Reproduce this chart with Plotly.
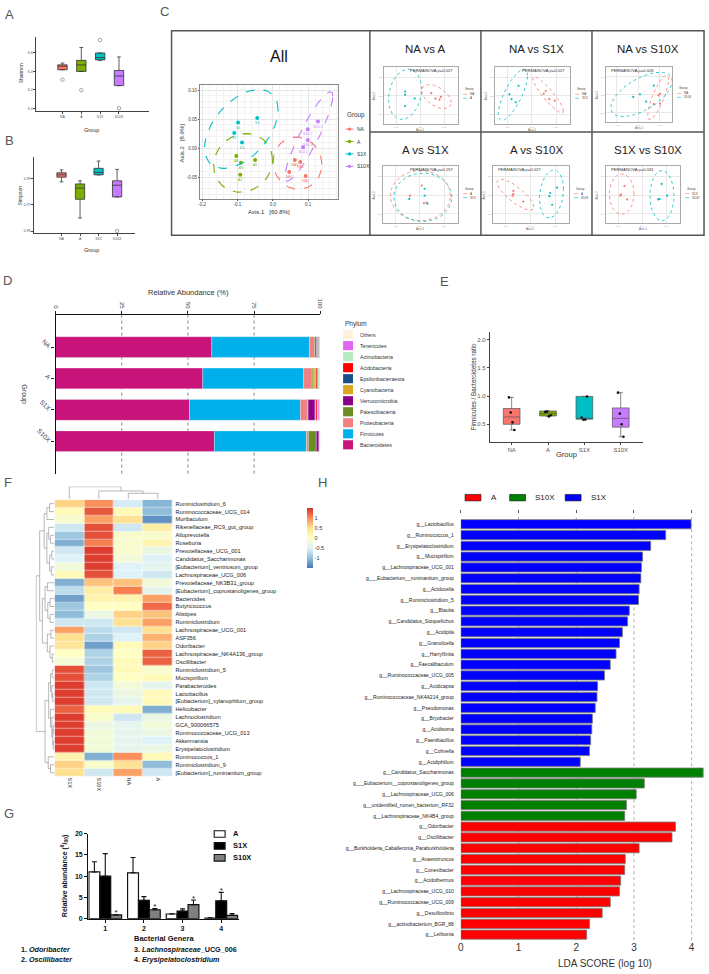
import numpy as np
import plotly.graph_objects as go

W, H = 709, 974
FONT = "Liberation Sans, Arial, sans-serif"

# ---------------- data ----------------
groups = ["NA", "A", "S1X", "S10X"]
group_colors = ["#F8766D", "#7CAE00", "#00BFC4", "#C77CFF"]

# A - Shannon (box stats per group)
shannon_q1 = [6.418, 6.400, 6.525, 6.246]
shannon_med = [6.457, 6.470, 6.550, 6.350]
shannon_q3 = [6.471, 6.520, 6.600, 6.410]
shannon_lo = [6.418, 6.400, 6.520, 6.246]
shannon_hi = [6.490, 6.660, 6.600, 6.557]
shannon_out_grp = [0, 1, 2, 3]
shannon_out = [6.31, 6.196, 6.74, 6.0]

# B - Simpson
simpson_q1 = [0.9807, 0.9722, 0.9816, 0.9731]
simpson_med = [0.9816, 0.9765, 0.9825, 0.9776]
simpson_q3 = [0.9824, 0.9781, 0.9841, 0.9793]
simpson_lo = [0.9789, 0.9650, 0.9816, 0.9731]
simpson_hi = [0.9835, 0.9793, 0.9869, 0.9837]
simpson_out_grp = [3]
simpson_out = [0.9600]

# C - PCoA, all samples
na_pc1 = [0.0625, 0.078, 0.0466, 0.093]
na_pc2 = [-0.0207, -0.024, -0.041, -0.048]
na_lab = ["NA3", "NA4", "NA1", "NA2"]
a_pc1 = [-0.103, -0.090, -0.050, -0.092]
a_pc2 = [-0.0137, -0.0254, -0.0207, -0.046]
a_lab = ["A4", "A3", "A1", "A2"]
s1x_pc1 = [-0.098, -0.044, -0.109, -0.087]
s1x_pc2 = [0.044, 0.052, 0.026, 0.0098]
s1x_lab = ["S4", "S3", "S2", "S1"]
s10x_pc1 = [0.128, 0.099, 0.099, 0.086]
s10x_pc2 = [0.046, 0.0326, 0.0139, 0.0016]
s10x_lab = ["S10-4", "S10-2", "S10-3", "S10-1"]
# ellipses: centre x, centre y, half width, half height, correlation
ell_na = (0.070, -0.026, 0.069, 0.045, -0.05)
ell_a = (-0.084, -0.0255, 0.083, 0.0505, 0.1)
ell_s1x = (-0.089, 0.033, 0.104, 0.068, 0.48)
ell_s10x = (0.102, 0.020, 0.068, 0.077, 0.9)

# C - pairwise PCoA
mini_titles = ["NA vs A", "NA vs S1X", "NA vs S10X", "A vs S1X", "A vs S10X", "S1X vs S10X"]
mini_p = ["0.027", "0.027", "0.026", "0.157", "0.027", "0.031"]
mini_g1_pc1 = [[0.66, 0.80, 0.72, 0.78], [0.70, 0.67, 0.75, 0.83], [0.85, 0.825, 0.75, 0.85],
               [0.53, 0.36, 0.56, 0.60], [0.26, 0.26, 0.40, 0.25], [0.24, 0.19, 0.28, 0.18]]
mini_g1_pc2 = [[0.55, 0.48, 0.45, 0.43], [0.59, 0.54, 0.44, 0.41], [0.52, 0.49, 0.32, 0.33],
               [0.68, 0.49, 0.35, 0.36], [0.58, 0.52, 0.38, 0.49], [0.67, 0.51, 0.42, 0.49]]
mini_g2_pc1 = [[0.28, 0.28, 0.42, 0.28], [0.31, 0.18, 0.21, 0.27], [0.75, 0.415, 0.525, 0.625],
               [0.57, 0.57, 0.35, 0.61], [0.88, 0.78, 0.77, 0.81], [0.78, 0.86, 0.75, 0.73]]
mini_g2_pc2 = [[0.58, 0.52, 0.45, 0.31], [0.69, 0.53, 0.44, 0.38], [0.68, 0.46, 0.51, 0.37],
               [0.62, 0.49, 0.43, 0.34], [0.64, 0.54, 0.48, 0.32], [0.71, 0.49, 0.43, 0.42]]
mini_g1_ell = [(0.735, 0.485, 0.215, 0.225, -0.5), (0.735, 0.52, 0.22, 0.34, -0.9),
               (0.82, 0.45, 0.17, 0.43, 0.8), (0.51, 0.49, 0.43, 0.47, 0.0),
               (0.29, 0.51, 0.26, 0.29, -0.8), (0.20, 0.52, 0.18, 0.38, 0.0)]
mini_g2_ell = [(0.28, 0.53, 0.24, 0.47, 0.2), (0.23, 0.52, 0.21, 0.48, 0.75),
               (0.55, 0.51, 0.50, 0.43, 0.6), (0.545, 0.46, 0.415, 0.455, 0.0),
               (0.80, 0.52, 0.17, 0.45, 0.2), (0.785, 0.49, 0.175, 0.47, 0.0)]

# D - phylum relative abundance (%), groups NA, A, S1X, S10X
phyla = ["Bacteroidetes", "Firmicutes", "Proteobacteria", "Patescibacteria", "Verrucomicrobia",
         "Cyanobacteria", "Epsilonbacteraeota", "Acidobacteria", "Actinobacteria", "Tenericutes", "Others"]
phyla_colors = ["#C8137A", "#00B0EA", "#F08080", "#6B8E23", "#8B008B",
                "#DAA520", "#1B4F8A", "#FF0000", "#B5EBC0", "#E066F0", "#FDF0DC"]
phyla_pct = [
    [59.0, 55.6, 50.6, 60.0],
    [36.9, 38.1, 41.9, 34.75],
    [1.9, 3.25, 2.6, 0.75],
    [0.8, 0.5, 0.3, 3.0],
    [0.2, 0.2, 2.6, 1.0],
    [0.5, 0.6, 0.2, 0.1],
    [0.2, 0.2, 0.2, 0.1],
    [0.2, 0.6, 0.6, 0.05],
    [0.1, 0.7, 0.2, 0.05],
    [0.1, 0.1, 0.6, 0.15],
    [0.1, 0.15, 0.2, 0.05],
]

# E - Firmicutes / Bacteroidetes ratio
ratio_q1 = [0.50, 0.647, 0.59, 0.45]
ratio_med = [0.63, 0.69, 0.60, 0.605]
ratio_q3 = [0.78, 0.735, 0.994, 0.79]
ratio_lo = [0.40, 0.64, 0.58, 0.28]
ratio_hi = [0.976, 0.735, 0.994, 1.06]
ratio_pts = [[0.976, 0.71, 0.535, 0.40], [0.72, 0.725, 0.64, 0.66],
             [0.62, 0.58, 0.585, 0.99], [1.06, 0.69, 0.50, 0.28]]

# F - heatmap (z-scores)
heat_cols = ["S1X", "S10X", "NA", "A"]
heat_rows = ["Ruminiclostridium_6", "Ruminococcaceae_UCG_014", "Muribaculum", "Rikenellaceae_RC9_gut_group",
             "Alloprevotella", "Roseburia", "Prevotellaceae_UCG_001", "Candidatus_Saccharimonas",
             "[Eubacterium]_ventriosum_group", "Lachnospiraceae_UCG_006", "Prevotellaceae_NK3B31_group",
             "[Eubacterium]_coprostanoligenes_group", "Bacteroides", "Butyricicoccus", "Alistipes",
             "Ruminiclostridium", "Lachnospiraceae_UCG_001", "ASF356", "Odoribacter",
             "Lachnospiraceae_NK4A136_group", "Oscillibacter", "Ruminiclostridium_5", "Mucispirillum",
             "Parabacteroides", "Lactobacillus", "[Eubacterium]_xylanophilum_group", "Helicobacter",
             "Lachnoclostridium", "GCA_900066575", "Ruminococcaceae_UCG_013", "Akkermansia",
             "Erysipelatoclostridium", "Ruminococcus_1", "Ruminiclostridium_9", "[Eubacterium]_ruminantium_group"]
heat_z = [
    [0.6, 1.0, -0.55, -1.05], [0.1, 1.3, 0.1, -1.0], [-0.1, 0.9, 0.5, -1.3], [-0.6, 1.35, -0.6, 0.3],
    [-0.9, 1.35, -0.1, -0.1], [-1.1, 1.1, -0.1, 0.2], [-0.6, 1.45, -0.1, -0.3], [-0.5, 1.45, -0.2, -0.5],
    [-0.2, 1.45, -0.5, -0.4], [0.1, 1.35, -0.5, -0.6], [-1.1, 0.7, 0.7, -0.2], [-0.7, 0.3, 1.1, -0.4],
    [-1.2, 0.2, 0.2, 0.9], [-0.9, 0.0, 0.0, 1.2], [-1.0, -0.3, 0.6, 0.7], [-0.6, -0.6, 0.5, 0.9],
    [0.9, -0.7, -0.6, 0.5], [0.5, -0.8, -0.5, 0.8], [0.4, -1.2, 0.1, 0.6], [0.0, -0.8, 0.0, 1.25],
    [-0.2, -0.8, 0.1, 1.25], [1.35, -0.9, 0.1, -0.1], [1.35, -0.8, 0.0, 0.1], [1.45, -0.6, -0.2, -0.4],
    [1.45, -0.6, -0.3, 0.1], [1.45, -0.6, -0.4, 0.1], [1.25, 0.1, 0.1, -1.1], [1.45, -0.1, -0.6, -0.3],
    [1.45, -0.3, -0.4, -0.2], [1.45, -0.2, -0.4, -0.3], [1.45, -0.2, -0.4, -0.5], [1.45, -0.2, -0.4, -0.3],
    [0.2, -1.1, 1.0, 0.1], [0.6, -0.1, 0.5, -1.0], [0.5, -0.6, 0.9, -0.6],
]
# clustering trees: (left, right, height); leaves are row / column indexes
row_tree = (((((0, 1, 1.0), 2, 1.6),
              ((3, (4, 5, 0.8), 1.2), ((6, 7, 0.5), (8, 9, 0.6), 1.0), 1.6), 2.2),
             (((10, 11, 1.5), ((12, 13, 0.9), (14, 15, 0.9), 1.4), 2.0),
              ((16, 17, 0.7), (18, (19, 20, 0.4), 0.9), 1.5), 2.6), 3.2),
            (((((21, 22, 0.4), (23, (24, 25, 0.3), 0.5), 0.8),
               (26, (27, ((28, 29, 0.2), (30, 31, 0.2), 0.3), 0.5), 0.8), 1.2),
              (32, (33, 34, 0.8), 1.3), 2.0)), 4.0)
col_tree = (0, (1, (2, 3, 0.6), 0.85), 1.3)

# G - bacterial genera (relative abundance, per mille)
genera_idx = [1, 2, 3, 4]
genera_notes = ["1. <i>Odoribacter</i>", "2. <i>Oscillibacter</i>",
                "3. <i>Lachnospiraceae</i>_UCG_006", "4. <i>Erysipelatoclostridium</i>"]
g_a_mean = [11.0, 10.8, 1.1, 0.15]
g_a_err = [2.4, 3.6, 0.05, 0.05]
g_s1x_mean = [10.0, 4.3, 1.8, 4.2]
g_s1x_err = [5.3, 0.9, 0.5, 2.0]
g_s10x_mean = [0.9, 2.1, 3.3, 0.8]
g_s10x_err = [0.1, 0.3, 1.1, 0.4]
g_a_sig = [0, 0, 0, 0]
g_s1x_sig = [0, 0, 0, 1]
g_s10x_sig = [1, 1, 1, 0]

# H - LEfSe LDA scores
lda_s1x_names = ["Lactobacillus", "Ruminococcus_1", "Erysipelatoclostridium", "Mucispirillum",
                 "Lachnospiraceae_UCG_001", "_Eubacterium__ruminantium_group", "Acidocella",
                 "Ruminiclostridium_5", "Blautia", "Candidatus_Stoquefichus", "Acidipila", "Granulicella",
                 "Harryflintia", "Faecalibaculum", "Ruminococcaceae_UCG_005", "Acidicapsa",
                 "Ruminococcaceae_NK4A214_group", "Pseudomonas", "Bryobacter", "Acidisoma",
                 "Paenibacillus", "Cohnella", "Acidiphilium"]
lda_s1x = [3.99, 3.55, 3.29, 3.15, 3.13, 3.12, 3.09, 3.08, 2.92, 2.89, 2.80, 2.75,
           2.69, 2.59, 2.49, 2.37, 2.36, 2.33, 2.28, 2.27, 2.25, 2.23, 2.07]
lda_s10x_names = ["Candidatus_Saccharimonas", "_Eubacterium__coprostanoligenes_group",
                  "Lachnospiraceae_UCG_006", "unidentified_rumen_bacterium_RF32", "Lachnospiraceae_NK4B4_group"]
lda_s10x = [4.20, 3.18, 3.04, 2.87, 2.84]
lda_a_names = ["Odoribacter", "Oscillibacter", "Burkholderia_Caballeronia_Paraburkholderia",
               "Anaerotruncus", "Conexibacter", "Acidothermus", "Lachnospiraceae_UCG_010",
               "Ruminococcaceae_UCG_009", "Desulfovibrio", "actinobacterium_BGR_88", "Leifsonia"]
lda_a = [3.72, 3.66, 3.09, 2.85, 2.84, 2.77, 2.75, 2.59, 2.45, 2.23, 2.18]

# ---------------- helpers ----------------
fig = go.Figure()
layout = dict(width=W, height=H, margin=dict(l=0, r=0, t=0, b=0), paper_bgcolor="white",
              plot_bgcolor="white", showlegend=False, hovermode=False, barmode="overlay",
              font=dict(family=FONT, color="#333"))
shapes, annos = [], []


def px(x):
    return x / W


def py(y):
    return 1 - y / H


n_axes = [0]


def new_axes(x0, x1, y0, y1, xkw=None, ykw=None):
    n_axes[0] += 1
    s = "" if n_axes[0] == 1 else str(n_axes[0])
    base = dict(showgrid=False, zeroline=False, showline=False, ticks="", showticklabels=False)
    xa = dict(base, domain=[px(x0), px(x1)], anchor="y" + s)
    ya = dict(base, domain=[py(y1), py(y0)], anchor="x" + s)
    xa.update(xkw or {})
    ya.update(ykw or {})
    layout["xaxis" + s] = xa
    layout["yaxis" + s] = ya
    return "x" + s, "y" + s


def text(x, y, s, size, color="#333", anchor="center", angle=0):
    annos.append(dict(xref="paper", yref="paper", x=px(x), y=py(y), text=s, showarrow=False,
                      xanchor=anchor, yanchor="middle", textangle=angle,
                      font=dict(size=size, color=color, family=FONT)))


def rect(x0, y0, x1, y1, fill="rgba(0,0,0,0)", line="rgba(0,0,0,0)", lw=0):
    shapes.append(dict(type="rect", xref="paper", yref="paper", x0=px(x0), x1=px(x1),
                       y0=py(y1), y1=py(y0), fillcolor=fill, line=dict(color=line, width=lw)))


def seg(x0, y0, x1, y1, color, lw, dash="solid"):
    shapes.append(dict(type="line", xref="paper", yref="paper", x0=px(x0), x1=px(x1),
                       y0=py(y0), y1=py(y1), line=dict(color=color, width=lw, dash=dash)))


def dot(x, y, r, color):
    shapes.append(dict(type="circle", xref="paper", yref="paper", x0=px(x - r), x1=px(x + r),
                       y0=py(y + r), y1=py(y - r), fillcolor=color, line=dict(width=0)))


def ellipse(cx, cy, rx, ry, rho, n=90):
    t = np.linspace(0, 2 * np.pi, n)
    return cx + rx * np.cos(t), cy + ry * (rho * np.cos(t) + np.sqrt(1 - rho ** 2) * np.sin(t))


def dendro(node):
    # returns position, height and line coordinates (pos list, height list)
    if isinstance(node, int):
        return float(node), 0.0, [], []
    a, b, h = node
    pa, ha, pl_a, hl_a = dendro(a)
    pb, hb, pl_b, hl_b = dendro(b)
    pos = pl_a + pl_b + [pa, pa, pb, pb, None]
    hts = hl_a + hl_b + [ha, h, h, hb, None]
    return (pa + pb) / 2, h, pos, hts


def add_boxes(xa, ya, q1, med, q3, lo, hi, width, line_color, lw, whisk):
    for i in range(4):
        fig.add_trace(go.Box(x=[i], q1=[q1[i]], median=[med[i]], q3=[q3[i]],
                             lowerfence=[lo[i]], upperfence=[hi[i]], width=width,
                             fillcolor=group_colors[i], line=dict(color=line_color, width=lw),
                             whiskerwidth=whisk, boxpoints=False, xaxis=xa, yaxis=ya))


tick_small = dict(showticklabels=True, showline=True, linecolor="#444", linewidth=0.8,
                  ticks="outside", ticklen=1.5, tickcolor="#444", tickfont=dict(size=3.5, color="#555"))

# ---------------- A ----------------
xa, ya = new_axes(33, 147, 33, 108,
                  xkw=dict(tick_small, range=[-1.42, 4.58], tickvals=[0, 1, 2, 3], ticktext=groups),
                  ykw=dict(tick_small, range=[5.968, 6.776], tickvals=[6.0, 6.2, 6.4, 6.6],
                           ticktext=["6.0", "6.2", "6.4", "6.6"]))
add_boxes(xa, ya, shannon_q1, shannon_med, shannon_q3, shannon_lo, shannon_hi, 0.5, "#333", 0.8, 0.4)
fig.add_trace(go.Scatter(x=shannon_out_grp, y=shannon_out, mode="markers", xaxis=xa, yaxis=ya,
                         marker=dict(symbol="circle-open", size=3.5, color="#666", line=dict(width=0.6))))
text(89, 127, "Group", 5.5)
text(19, 70, "Shannon", 5, angle=-90)

# ---------------- B ----------------
xa, ya = new_axes(31, 133, 154, 231,
                  xkw=dict(tick_small, range=[-1.5, 3.96], tickvals=[0, 1, 2, 3], ticktext=groups),
                  ykw=dict(tick_small, range=[0.9591, 0.9885], tickvals=[0.96, 0.97, 0.98],
                           ticktext=["0.96", "0.97", "0.98"]))
add_boxes(xa, ya, simpson_q1, simpson_med, simpson_q3, simpson_lo, simpson_hi, 0.5, "#333", 0.8, 0.4)
fig.add_trace(go.Scatter(x=simpson_out_grp, y=simpson_out, mode="markers", xaxis=xa, yaxis=ya,
                         marker=dict(symbol="circle-open", size=3.5, color="#666", line=dict(width=0.6))))
text(89, 248, "Group", 5.5)
text(17, 193, "Simpson", 5, angle=-90)

# ---------------- C ----------------
rect(170, 27, 707, 233, line="#555", lw=1.5)
for xv in [370, 482, 594]:
    seg(xv, 27, xv, 233, "#555", 1.5)
seg(370, 129, 707, 129, "#555", 1.5)

grid_ax = dict(showgrid=True, gridcolor="#E6E6E6", gridwidth=0.5, showline=True, mirror=True,
               linecolor="#888", linewidth=0.7, ticks="outside", ticklen=1.5, tickcolor="#555",
               showticklabels=True, tickfont=dict(size=4.5, color="#444"),
               minor=dict(showgrid=True, gridcolor="#F2F2F2", gridwidth=0.4))
xa, ya = new_axes(199, 338, 82, 196,
                  xkw=dict(grid_ax, range=[-0.205, 0.185], tickvals=[-0.2, -0.1, 0.0, 0.1],
                           ticktext=["-0.2", "-0.1", "0.0", "0.1"]),
                  ykw=dict(grid_ax, range=[-0.087, 0.108], tickvals=[-0.05, 0.0, 0.05, 0.10],
                           ticktext=["-0.05", "0.00", "0.05", "0.10"]))
for pc1, pc2, lab, ell, col in [(na_pc1, na_pc2, na_lab, ell_na, group_colors[0]),
                                (a_pc1, a_pc2, a_lab, ell_a, group_colors[1]),
                                (s1x_pc1, s1x_pc2, s1x_lab, ell_s1x, group_colors[2]),
                                (s10x_pc1, s10x_pc2, s10x_lab, ell_s10x, group_colors[3])]:
    ex, ey = ellipse(*ell)
    fig.add_trace(go.Scatter(x=ex, y=ey, mode="lines", line=dict(color=col, width=1.1, dash="dash"),
                             xaxis=xa, yaxis=ya))
    fig.add_trace(go.Scatter(x=pc1, y=pc2, mode="markers+text", text=lab, textposition="bottom center",
                             textfont=dict(size=3.5, color=col), marker=dict(color=col, size=4),
                             xaxis=xa, yaxis=ya))
text(278, 53, "All", 16, "#111")
text(268, 210, "Axis.1   [60.8%]", 6)
text(181, 140, "Axis.2   [8.9%]", 6, angle=-90)
text(345, 112, "Group", 6.3, anchor="left")
for i, g in enumerate(groups):
    yy = 126 + i * 12.5
    seg(345.5, yy, 353.5, yy, group_colors[i], 1)
    dot(349.5, yy, 1.7, group_colors[i])
    text(355.5, yy, g, 5, anchor="left")

mini_boxes = [(384, 459, 63, 121), (496, 572, 63, 121), (608, 675, 63, 119),
              (383, 459, 163, 221), (494, 571, 163, 221), (608, 683, 163, 221)]
mini_cells = [(370, 482, 27), (482, 594, 27), (594, 707, 27),
              (370, 482, 129), (482, 594, 129), (594, 707, 129)]
perm_right = [True, True, False, True, False, False]
mini_ax = dict(showgrid=True, gridcolor="#E8E8E8", gridwidth=0.4, showline=True, mirror=True,
               linecolor="#AAA", linewidth=0.6, range=[-0.03, 1.05], showticklabels=True,
               tickvals=[0.15, 0.5, 0.85], ticktext=["-0.1", "0.0", "0.1"],
               tickfont=dict(size=2.5, color="#888"))
RED, CYAN = "#F8766D", "#00BFC4"
for k in range(6):
    x0, x1, y0, y1 = mini_boxes[k]
    c0, c1, ct = mini_cells[k]
    xa, ya = new_axes(x0, x1, y0, y1, xkw=mini_ax, ykw=mini_ax)
    names = mini_titles[k].split(" vs ")
    for pc1, pc2, ell, col in [(mini_g1_pc1[k], mini_g1_pc2[k], mini_g1_ell[k], RED),
                               (mini_g2_pc1[k], mini_g2_pc2[k], mini_g2_ell[k], CYAN)]:
        ex, ey = ellipse(*ell)
        fig.add_trace(go.Scatter(x=ex, y=ey, mode="lines", line=dict(color=col, width=0.8, dash="dot"),
                                 xaxis=xa, yaxis=ya))
        fig.add_trace(go.Scatter(x=pc1, y=pc2, mode="markers", marker=dict(color=col, size=2.2),
                                 xaxis=xa, yaxis=ya))
    text((c0 + c1) / 2, ct + 18, mini_titles[k], 11.5, "#222")
    ptxt = "PERMANOVA <i>p</i>=" + mini_p[k]
    if perm_right[k]:
        text(x1 - 3, y0 + 4, ptxt, 4.2, "#333", anchor="right")
    else:
        text(x0 + 3, y0 + 4, ptxt, 4.2, "#333", anchor="left")
    text((x0 + x1) / 2, y1 + 6, "Axis.1", 3, "#666")
    text(x0 - 9, (y0 + y1) / 2, "Axis.2", 3, "#666", angle=-90)
    ym = (y0 + y1) / 2
    text(x1 + 5, ym - 6, "Group", 3, "#444", anchor="left")
    for j, (nm, col) in enumerate(zip(names, [RED, CYAN])):
        seg(x1 + 5, ym - 1 + j * 4, x1 + 9, ym - 1 + j * 4, col, 0.6)
        text(x1 + 10, ym - 1 + j * 4, nm, 3, "#444", anchor="left")

# ---------------- D ----------------
xa, ya = new_axes(53, 320, 313, 473,
                  xkw=dict(side="top", range=[0, 100], tickvals=[0, 25, 50, 75, 100],
                           ticktext=["0", "25", "50", "75", "100"], tickangle=90, showticklabels=True,
                           tickfont=dict(size=6, color="#444"), ticks="outside", ticklen=3,
                           tickcolor="#222", showline=True, linecolor="#111", linewidth=1.2),
                  ykw=dict(range=[4.03, -1.03], tickvals=[0, 1, 2, 3], ticktext=groups, tickangle=45,
                           showticklabels=True, tickfont=dict(size=6.5, color="#444"), ticks="outside",
                           ticklen=3, tickcolor="#222", showline=True, linecolor="#111", linewidth=1.2))
for v in [25, 50, 75]:
    shapes.append(dict(type="line", xref=xa, yref=ya + " domain", x0=v, x1=v, y0=0, y1=1,
                       line=dict(color="#777", width=0.9, dash="dot"), layer="below"))
cum = np.zeros(4)
for name, col, vals in zip(phyla, phyla_colors, phyla_pct):
    fig.add_trace(go.Bar(y=[0, 1, 2, 3], x=vals, base=cum.copy(), orientation="h", width=0.66,
                         marker=dict(color=col, line=dict(color="#F4F4F4", width=0.3)),
                         xaxis=xa, yaxis=ya))
    cum = cum + np.array(vals)
text(187, 291, "Relative Abundance (%)", 7.5)
text(21, 393, "Group", 7, angle=90)
text(343, 322, "Phylum", 6.5, anchor="left")
for i, (name, col) in enumerate(reversed(list(zip(phyla, phyla_colors)))):
    yy = 333 + i * 11.1
    rect(343, yy - 4.6, 353, yy + 4.6, fill=col)
    text(358, yy, name, 5.2, anchor="left")

# ---------------- E ----------------
e_ax = dict(showticklabels=True, showline=True, linecolor="#444", linewidth=0.9, ticks="outside",
            ticklen=2, tickcolor="#444", tickfont=dict(size=6, color="#555"))
xa, ya = new_axes(491, 645, 330, 441,
                  xkw=dict(e_ax, range=[-0.6, 3.6], tickvals=[0, 1, 2, 3], ticktext=groups),
                  ykw=dict(e_ax, range=[0.19, 2.14], tickvals=[0.5, 1.0, 1.5, 2.0],
                           ticktext=["0.5", "1.0", "1.5", "2.0"]))
add_boxes(xa, ya, ratio_q1, ratio_med, ratio_q3, ratio_lo, ratio_hi, 0.46, "#555", 0.7, 0.25)
for i, pts in enumerate(ratio_pts):
    jit = [i + ((j % 4) - 1.5) * 0.05 for j in range(len(pts))]
    fig.add_trace(go.Scatter(x=jit, y=pts, mode="markers", marker=dict(color="#111", size=2.6),
                             xaxis=xa, yaxis=ya))
text(474, 385, "Firmicutes / Bacteroidetes ratio", 6.3, angle=-90)
text(568, 454, "Group", 7.5)

# ---------------- F ----------------
rdylbu = ["#4575B4", "#91BFDB", "#E0F3F8", "#FFFFBF", "#FEE090", "#FC8D59", "#D73027"]
cscale = [[i / 6, c] for i, c in enumerate(rdylbu)]
xa, ya = new_axes(52, 171, 499.3, 778.2,
                  xkw=dict(range=[-0.5, 3.5], tickvals=[0, 1, 2, 3], ticktext=heat_cols, tickangle=90,
                           showticklabels=True, tickfont=dict(size=5.5, color="#333")),
                  ykw=dict(range=[34.5, -0.5], tickvals=list(range(len(heat_rows))), ticktext=heat_rows,
                           side="right", showticklabels=True, tickfont=dict(size=5.6, color="#222"),
                           ticklabelstandoff=2))
fig.add_trace(go.Heatmap(z=heat_z, x=[0, 1, 2, 3], y=list(range(len(heat_rows))), colorscale=cscale,
                         zmin=-1.49, zmax=1.52, xgap=0.5, ygap=0.5, xaxis=xa, yaxis=ya,
                         colorbar=dict(x=px(297), xanchor="left", y=py(538), yanchor="middle",
                                       len=80, lenmode="pixels", thickness=6, outlinewidth=0,
                                       tickvals=[-1, -0.5, 0, 0.5, 1], ticktext=["-1", "-0.5", "0", "0.5", "1"],
                                       tickfont=dict(size=5.5, color="#333"), ticks="")))
_, r_root, r_pos, r_h = dendro(row_tree)
xa, ya = new_axes(33, 51.5, 499.3, 778.2, xkw=dict(range=[r_root * 1.02, 0]), ykw=dict(range=[34.5, -0.5]))
fig.add_trace(go.Scatter(x=r_h, y=r_pos, mode="lines", line=dict(color="#999", width=0.7),
                         xaxis=xa, yaxis=ya))
_, c_root, c_pos, c_h = dendro(col_tree)
xa, ya = new_axes(52, 171, 486, 498.5, xkw=dict(range=[-0.5, 3.5]), ykw=dict(range=[0, c_root * 1.02]))
fig.add_trace(go.Scatter(x=c_pos, y=c_h, mode="lines", line=dict(color="#999", width=0.7),
                         xaxis=xa, yaxis=ya))

# ---------------- G ----------------
g_ax = dict(showticklabels=True, showline=True, linecolor="#111", linewidth=1.3, ticks="outside",
            ticklen=3, tickwidth=1.2, tickcolor="#111", tickfont=dict(size=7, color="#111"))
xa, ya = new_axes(86, 238, 835.7, 921.3,
                  xkw=dict(g_ax, range=[0.56, 4.46], tickvals=genera_idx,
                           ticktext=["<b>%d</b>" % g for g in genera_idx]),
                  ykw=dict(g_ax, range=[0, 20], tickvals=[0, 5, 10, 15, 20],
                           ticktext=["<b>%d</b>" % v for v in [0, 5, 10, 15, 20]]))
bw = 0.282
for k, (mean, err, sig, fill) in enumerate([(g_a_mean, g_a_err, g_a_sig, "white"),
                                            (g_s1x_mean, g_s1x_err, g_s1x_sig, "black"),
                                            (g_s10x_mean, g_s10x_err, g_s10x_sig, "#808080")]):
    off = -1.5 * bw + k * bw
    fig.add_trace(go.Bar(x=genera_idx, y=mean, width=bw, offset=off,
                         marker=dict(color=fill, line=dict(color="#111", width=1.2)),
                         error_y=dict(type="data", array=err, arrayminus=[0] * 4, symmetric=False,
                                      color="#111", thickness=1.1, width=2.5),
                         xaxis=xa, yaxis=ya))
    sx = [g + off + bw / 2 for g, s in zip(genera_idx, sig) if s]
    sy = [m + e + 0.3 for m, e, s in zip(mean, err, sig) if s]
    fig.add_trace(go.Scatter(x=sx, y=sy, mode="text", text=["*"] * len(sx),
                             textfont=dict(size=8, color="#111"), xaxis=xa, yaxis=ya))
text(62, 878, "<b>Relative abundance (<sup>0</sup>/<sub>00</sub>)</b>", 7, "#111", angle=-90)
text(162, 941, "<b>Bacterial Genera</b>", 7.5, "#111")
text(16, 952, "<b>" + genera_notes[0] + "</b>", 7.2, "#111", anchor="left")
text(16, 962, "<b>" + genera_notes[1] + "</b>", 7.2, "#111", anchor="left")
text(130, 952, "<b>" + genera_notes[2] + "</b>", 7.2, "#111", anchor="left")
text(130, 962, "<b>" + genera_notes[3] + "</b>", 7.2, "#111", anchor="left")
for i, (nm, fill) in enumerate([("A", "white"), ("S1X", "black"), ("S10X", "#808080")]):
    yy = 836 + i * 12
    rect(213, yy - 3.3, 224, yy + 3.3, fill=fill, line="#111", lw=1.1)
    text(230, yy, "<b>" + nm + "</b>", 7.5, "#111", anchor="left")

# ---------------- H ----------------
lda_names = ["g__" + n for n in lda_s1x_names + lda_s10x_names + lda_a_names]
lda_vals = lda_s1x + lda_s10x + lda_a
lda_cols = ["#0000FF"] * len(lda_s1x) + ["#008000"] * len(lda_s10x) + ["#FF0000"] * len(lda_a)
n_lda = len(lda_names)
h_range = [0, 4.223]
xa, ya = new_axes(461.7, 707.5, 514, 943,
                  xkw=dict(range=h_range, tickvals=[0, 1, 2, 3, 4], ticktext=["0", "1", "2", "3", "4"],
                           showticklabels=True, tickfont=dict(size=10, color="#333")),
                  ykw=dict(range=[n_lda - 0.48, -0.92], tickvals=list(range(n_lda)), ticktext=lda_names,
                           showticklabels=True, tickfont=dict(size=5, color="#222"), ticklabelstandoff=6))
for v in [1, 2, 3, 4]:
    shapes.append(dict(type="line", xref=xa, yref=ya + " domain", x0=v, x1=v, y0=0, y1=1,
                       line=dict(color="#999", width=0.8, dash="dot"), layer="below"))
fig.add_trace(go.Bar(y=list(range(n_lda)), x=lda_vals, orientation="h", width=0.85,
                     marker=dict(color=lda_cols, line=dict(color="#777", width=0.8)),
                     xaxis=xa, yaxis=ya))
n_axes[0] += 1
top_x = "xaxis%d" % n_axes[0]
layout[top_x] = dict(overlaying=xa, anchor=ya, side="top", range=h_range, tickvals=[0, 1, 2, 3, 4],
                     ticks="outside", ticklen=3, tickcolor="#555", showticklabels=False,
                     showline=False, showgrid=False, zeroline=False)
fig.add_trace(go.Scatter(x=[0], y=[0], mode="markers", marker=dict(opacity=0),
                         xaxis="x%d" % n_axes[0], yaxis=ya))
text(607, 966, "LDA SCORE (log 10)", 10)
for x0, nm, col in [(466, "A", "#FF0000"), (511, "S10X", "#008000"), (567, "S1X", "#0000FF")]:
    rect(x0, 494, x0 + 16, 500.5, fill=col, line="#111", lw=0.6)
    text(x0 + 24, 497, nm, 8, "#222", anchor="left")

# ---------------- panel letters ----------------
for lab, x, y in [("A", 7, 11), ("B", 7, 137), ("C", 163, 8), ("D", 5, 278), ("E", 445, 280),
                  ("F", 5, 482), ("G", 6, 815), ("H", 322, 482)]:
    text(x, y, lab, 13, "#555")

layout["shapes"] = shapes
layout["annotations"] = annos
fig.update_layout(**layout)
# page body has a default 8px margin; drop it so the figure fills the window
fig.write_html("out.html", config={"displayModeBar": False},
               post_script="document.body.style.margin='0';")
